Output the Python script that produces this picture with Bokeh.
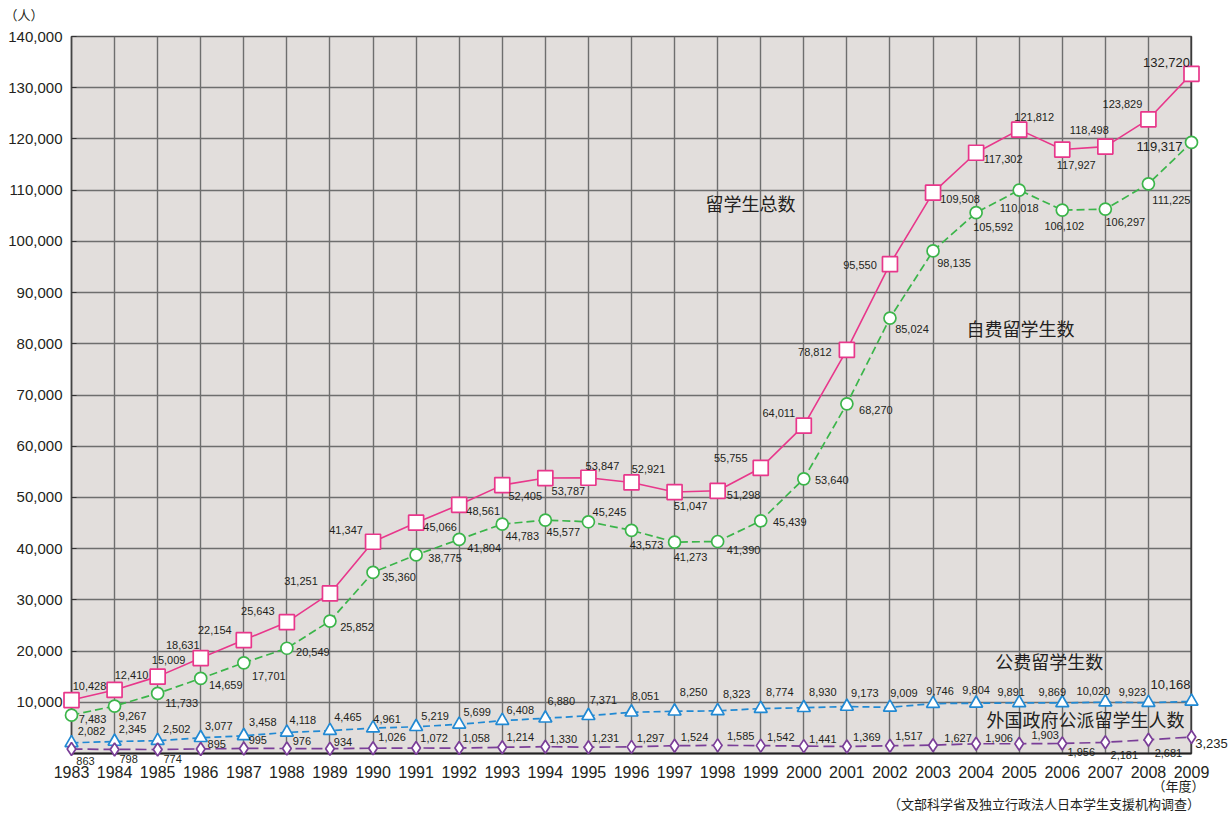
from bokeh.plotting import figure
from bokeh.models import ColumnDataSource, Range1d, FixedTicker, NumeralTickFormatter, Span
from bokeh.core.properties import value
from bokeh.embed import file_html
from bokeh.resources import INLINE

# ---------------- data ----------------
years = [1983, 1984, 1985, 1986, 1987, 1988, 1989, 1990, 1991, 1992, 1993, 1994, 1995,
         1996, 1997, 1998, 1999, 2000, 2001, 2002, 2003, 2004, 2005, 2006, 2007, 2008, 2009]
year_labels = [str(y) for y in years]

total = [10428, 12410, 15009, 18631, 22154, 25643, 31251, 41347, 45066, 48561, 52405, 53787, 53847,
         52921, 51047, 51298, 55755, 64011, 78812, 95550, 109508, 117302, 121812, 117927, 118498,
         123829, 132720]
self_funded = [7483, 9267, 11733, 14659, 17701, 20549, 25852, 35360, 38775, 41804, 44783, 45577, 45245,
               43573, 41273, 41390, 45439, 53640, 68270, 85024, 98135, 105592, 110018, 106102, 106297,
               111225, 119317]
gov_funded = [2082, 2345, 2502, 3077, 3458, 4118, 4465, 4961, 5219, 5699, 6408, 6880, 7371,
              8051, 8250, 8323, 8774, 8930, 9173, 9009, 9746, 9804, 9891, 9869, 10020, 9923, 10168]
foreign_gov = [863, 798, 774, 895, 995, 976, 934, 1026, 1072, 1058, 1214, 1330, 1231,
               1297, 1524, 1585, 1542, 1441, 1369, 1517, 1627, 1906, 1903, 1956, 2181, 2681, 3235]

y_ticks = [10000, 20000, 30000, 40000, 50000, 60000, 70000, 80000, 90000, 100000, 110000, 120000,
           130000, 140000]

series_names = ["留学生总数", "自费留学生数", "公费留学生数", "外国政府公派留学生人数"]
unit_label = "（人）"
year_unit_label = "（年度）"
source_note = "（文部科学省及独立行政法人日本学生支援机构调查）"

# ---------------- label placement (screen px, dy positive = down) ----------------
total_off = [(18, -14), (17, -15), (11, -17), (-18, -13), (-29, -10), (-29, -11), (-29, -12), (-27, -12),
             (24, 4), (24, 6), (23, 11), (23, 13), (14, -12), (17, -13), (16, 14), (26, 4), (-30, -10),
             (-25, -13), (-32, 2), (-30, 1), (27, 6), (27, 6), (15, -13), (14, 15), (-16, -17),
             (-26, -15), (-25, -11)]
self_off = [(21, 4), (18, 10), (24, 10), (25, 7), (25, 13), (26, 4), (27, 6), (26, 5), (29, 3), (25, 9),
            (20, 12), (18, 12), (21, -10), (15, 15), (16, 15), (26, 8), (29, 1), (28, 1), (29, 6),
            (22, 11), (21, 12), (17, 14), (0, 18), (2, 16), (20, 13), (23, 16), (-32, 4)]
gov_off = [(20, -12), (18, -12), (19, -12), (18, -12), (19, -14), (16, -12), (18, -14), (14, -9),
           (19, -11), (18, -12), (18, -11), (16, -17), (15, -16), (14, -16), (19, -19), (19, -17),
           (19, -17), (19, -16), (18, -14), (14, -14), (7, -13), (0, -13), (-8, -11), (-10, -11),
           (-12, -11), (-16, -11), (-21, -17)]
foreign_off = [(14, 12), (14, 10), (15, 9), (16, -5), (14, -8), (15, -8), (13, -7), (19, -11), (18, -10),
               (17, -10), (18, -10), (18, -8), (17, -9), (19, -9), (20, -9), (23, -9), (20, -9),
               (19, -7), (20, -9), (19, -10), (25, -7), (23, -6), (26, -9), (19, 9), (19, 13),
               (20, 13), (20, 7)]

PINK = "#E8378B"
GREEN = "#3BB54A"
BLUE = "#2189D3"
PURPLE = "#7A3E98"
TEXT = "#231F20"
NUM_FONT = "Liberation Sans"
CJK_FONT = "Noto Sans CJK SC"

p = figure(width=1228, height=812, output_backend="svg", toolbar_location=None,
           x_range=Range1d(1983, 2009), y_range=Range1d(0, 140000),
           min_border_left=71, min_border_top=36, min_border_right=37, min_border_bottom=59,
           background_fill_color="#E2DEDC", border_fill_color="white")
p.outline_line_color = "#555555"
p.outline_line_width = 1.5

# grid
p.xgrid.ticker = FixedTicker(ticks=years)
p.ygrid.ticker = FixedTicker(ticks=y_ticks)
for g in (p.xgrid, p.ygrid):
    g.grid_line_color = "#6E6E6E"
    g.grid_line_width = 1.4

# axes
p.xaxis.ticker = FixedTicker(ticks=years)
p.xaxis.major_label_overrides = {y: s for y, s in zip(years, year_labels)}
p.xaxis.major_tick_in = 0
p.xaxis.major_tick_out = 0
p.xaxis.minor_tick_line_color = None
p.xaxis.axis_line_color = "#222222"
p.xaxis.axis_line_width = 2
p.xaxis.major_label_standoff = 12
p.xaxis.major_label_text_font = NUM_FONT
p.xaxis.major_label_text_font_size = "16px"
p.xaxis.major_label_text_color = TEXT

p.yaxis.ticker = FixedTicker(ticks=y_ticks)
p.yaxis.formatter = NumeralTickFormatter(format="0,0")
p.yaxis.major_tick_in = 5
p.yaxis.major_tick_out = 0
p.yaxis.major_tick_line_color = "#333333"
p.yaxis.minor_tick_line_color = None
p.yaxis.axis_line_color = "#444444"
p.yaxis.axis_line_width = 1.5
p.yaxis.major_label_standoff = 9
p.yaxis.major_label_text_font = NUM_FONT
p.yaxis.major_label_text_font_size = "15px"
p.yaxis.major_label_text_color = TEXT

p.add_layout(Span(location=2009, dimension="height", line_color="#222222", line_width=2))

# series
specs = [
    (total, PINK, None, "square", 15, total_off),
    (self_funded, GREEN, "8 4", "circle", 12, self_off),
    (gov_funded, BLUE, "7 4", "triangle", 13, gov_off),
    (foreign_gov, PURPLE, "11 5", "diamond", 13, foreign_off),
]
for vals, col, dash, marker, size, offs in specs:
    if dash is None:
        p.line(years, vals, line_color=col, line_width=1.6)
    else:
        p.line(years, vals, line_color=col, line_width=1.7, line_dash=dash)
    p.scatter(years, vals, marker=marker, size=size, fill_color="white", line_color=col,
              line_width=1.7, level="overlay")
    n = len(vals)
    last = [i == n - 1 for i in range(n)]
    src = ColumnDataSource(dict(
        x=years, y=vals, text=[f"{v:,}" for v in vals],
        dx=[o[0] for o in offs], dy=[o[1] for o in offs],
        fs=["13px" if b else "11px" for b in last]))
    p.text(x="x", y="y", text="text", source=src, x_offset="dx", y_offset="dy",
           text_align="center", text_baseline="middle", text_font=value(NUM_FONT),
           text_font_size="fs", text_color=TEXT, level="overlay")

# series name annotations (data-space placement)
name_x = [1998.76, 2005.03, 2005.70, 2006.54]
name_y = [107400, 83150, 18150, 6830]
p.text(x=name_x, y=name_y, text=series_names, text_align="center", text_baseline="middle",
       text_font=value(CJK_FONT), text_font_size="18px", text_color=TEXT, level="overlay")

# unit / source notes
p.text(x=[1981.9], y=[144250], text=[unit_label], text_align="center", text_baseline="middle",
       text_font=value(CJK_FONT), text_font_size="13px", text_color=TEXT, level="overlay")
p.text(x=[2008.7], y=[-6300], text=[year_unit_label], text_align="center", text_baseline="middle",
       text_font=value(CJK_FONT), text_font_size="13px", text_color=TEXT, level="overlay")
p.text(x=[2009.2], y=[-9700], text=[source_note], text_align="right", text_baseline="middle",
       text_font=value(CJK_FONT), text_font_size="13px", text_color=TEXT, level="overlay")

open("out.html", "w").write(file_html(p, INLINE))
